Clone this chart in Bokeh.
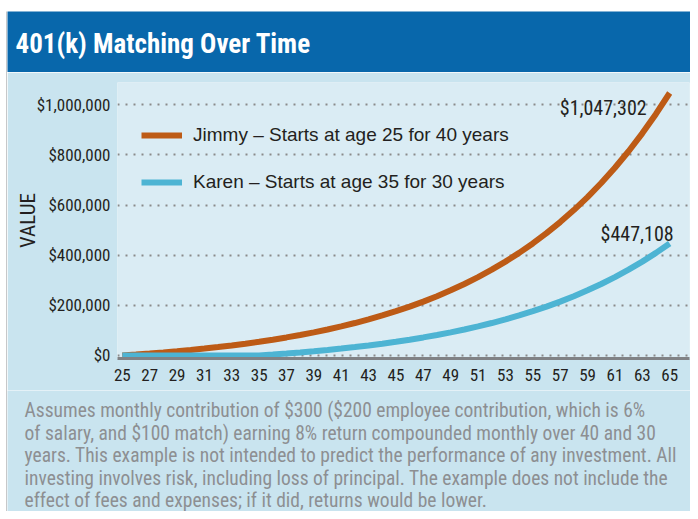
from bokeh.plotting import figure
from bokeh.models import Label, FixedTicker, NumeralTickFormatter, Range1d
from bokeh.layouts import column, row
from bokeh.embed import file_html
from bokeh.resources import INLINE

title_text = "401(k) Matching Over Time"
y_label = "VALUE"
ages = [25, 26, 27, 28, 29, 30, 31, 32, 33, 34, 35, 36, 37, 38, 39, 40, 41, 42, 43, 44, 45,
        46, 47, 48, 49, 50, 51, 52, 53, 54, 55, 56, 57, 58, 59, 60, 61, 62, 63, 64, 65]
age_ticks = [25, 27, 29, 31, 33, 35, 37, 39, 41, 43, 45, 47, 49, 51, 53, 55, 57, 59, 61, 63, 65]
value_ticks = [0, 200000, 400000, 600000, 800000, 1000000]
jimmy = [0, 3735, 7780, 12161, 16905, 22043, 27608, 33634, 40161, 47229, 54884,
         63175, 72153, 81877, 92408, 103813, 116164, 129541, 144028, 159717, 176708,
         195110, 215039, 236623, 259997, 285312, 312728, 342419, 374575, 409400, 447115,
         487961, 532196, 580104, 631987, 688177, 749031, 814935, 886310, 963609, 1047302]
karen = [0, 0, 0, 0, 0, 0, 0, 0, 0, 0, 0,
         3735, 7780, 12161, 16905, 22043, 27608, 33634, 40161, 47229, 54884,
         63175, 72153, 81877, 92408, 103813, 116164, 129541, 144028, 159717, 176708,
         195110, 215039, 236623, 259997, 285312, 312728, 342419, 374575, 409400, 447108]
series_names = ["Jimmy \u2013 Starts at age 25 for 40 years",
                "Karen \u2013 Starts at age 35 for 30 years"]
footnote_lines = [
    "Assumes monthly contribution of $300 ($200 employee contribution, which is 6%",
    "of salary,  and $100 match) earning 8% return compounded monthly over 40 and 30",
    "years. This example is not intended to predict the performance of any investment. All",
    "investing involves risk, including loss of principal. The example does not include the",
    "effect of fees and expenses; if it did, returns would be lower.",
]

COND = "Roboto Condensed"
REG = "Liberation Sans"
DARK = "#231f20"
ORANGE = "#BD5B16"
BLUE = "#4DB4D3"
BODY = "#C9E4EF"
PLOT_BG = "#DAECF4"
HEADER = "#0867AB"
EDGE = "#8f9193"


def blank(width, height, bg, border="white", **kw):
    f = figure(width=width, height=height, x_range=Range1d(0, 1), y_range=Range1d(0, 1),
               output_backend="svg", toolbar_location=None, background_fill_color=bg,
               border_fill_color=border, outline_line_color=None, frame_align=False, **kw)
    f.axis.visible = False
    f.grid.visible = False
    return f


# left white margin with grey edge line
strip = blank(7, 511, EDGE, border="white", min_border_left=6, min_border_right=0,
              min_border_top=11, min_border_bottom=0)

# header band
header = blank(683, 72, HEADER, border="white", min_border_left=0, min_border_right=0,
               min_border_top=11, min_border_bottom=0)
header.add_layout(Label(x=8, y=29, x_units="screen", y_units="screen", text=title_text,
                        text_font=COND, text_font_size="27px", text_font_style="bold",
                        text_color="white", text_baseline="middle"))

# main chart
p = figure(width=683, height=318, x_range=Range1d(24.65, 66.45), y_range=Range1d(-11970, 1089200),
           output_backend="svg", toolbar_location=None, frame_align=False,
           min_border_left=110, min_border_right=1, min_border_top=10, min_border_bottom=32,
           background_fill_color=PLOT_BG, border_fill_color=BODY, outline_line_color=None)

p.line(ages, jimmy, line_color=ORANGE, line_width=6, legend_label=series_names[0])
p.line(ages, karen, line_color=BLUE, line_width=6, legend_label=series_names[1])

p.add_layout(Label(x=ages[-1], y=jimmy[-1], text="${:,}".format(jimmy[-1]), text_font=COND,
                   text_font_size="20px", text_color=DARK, text_align="right", text_baseline="middle",
                   x_offset=-23, y_offset=-14.5))
p.add_layout(Label(x=ages[-1], y=karen[-1], text="${:,}".format(karen[-1]), text_font=COND,
                   text_font_size="20px", text_color=DARK, text_align="right", text_baseline="middle",
                   x_offset=4, y_offset=9))

p.xaxis.ticker = FixedTicker(ticks=age_ticks)
p.yaxis.ticker = FixedTicker(ticks=value_ticks)
p.yaxis.formatter = NumeralTickFormatter(format="$0,0")
for ax in (p.xaxis[0], p.yaxis[0]):
    ax.major_tick_line_color = None
    ax.minor_tick_line_color = None
    ax.major_tick_out = 0
    ax.major_tick_in = 0
    ax.minor_tick_out = 0
    ax.minor_tick_in = 0
    ax.major_label_text_font = COND
    ax.major_label_text_font_size = "17px"
    ax.major_label_text_color = DARK
p.xaxis.axis_line_color = "#808285"
p.xaxis.axis_line_width = 3
p.xaxis.major_label_standoff = 10
p.yaxis.axis_line_color = None
p.yaxis.major_label_standoff = 7
p.yaxis.axis_label = y_label
p.yaxis.axis_label_text_font = COND
p.yaxis.axis_label_text_font_size = "21px"
p.yaxis.axis_label_text_font_style = "normal"
p.yaxis.axis_label_text_color = DARK
p.yaxis.axis_label_standoff = -6

p.xgrid.grid_line_color = None
p.ygrid.grid_line_color = "#8a8a8a"
p.ygrid.grid_line_width = 2
p.ygrid.grid_line_dash = "2 6"

lg = p.legend[0]
lg.location = (24, 165)
lg.background_fill_alpha = 0
lg.border_line_alpha = 0
lg.padding = 0
lg.margin = 0
lg.glyph_width = 41
lg.glyph_height = 20
lg.label_height = 20
lg.spacing = 25
lg.label_standoff = 11
lg.label_text_font = REG
lg.label_text_font_size = "19px"
lg.label_text_color = DARK

# footnote
foot = blank(683, 121, BODY, border=BODY, min_border=0)
for i, line in enumerate(footnote_lines):
    foot.add_layout(Label(x=17, y=101 - 22.5 * i, x_units="screen", y_units="screen", text=line,
                          text_font=COND, text_font_size="19.5px", text_color="#8d8f92",
                          text_baseline="middle"))

layout = row(strip, column(header, p, foot, spacing=0), spacing=0)
open("out.html", "w").write(file_html(layout, INLINE))
